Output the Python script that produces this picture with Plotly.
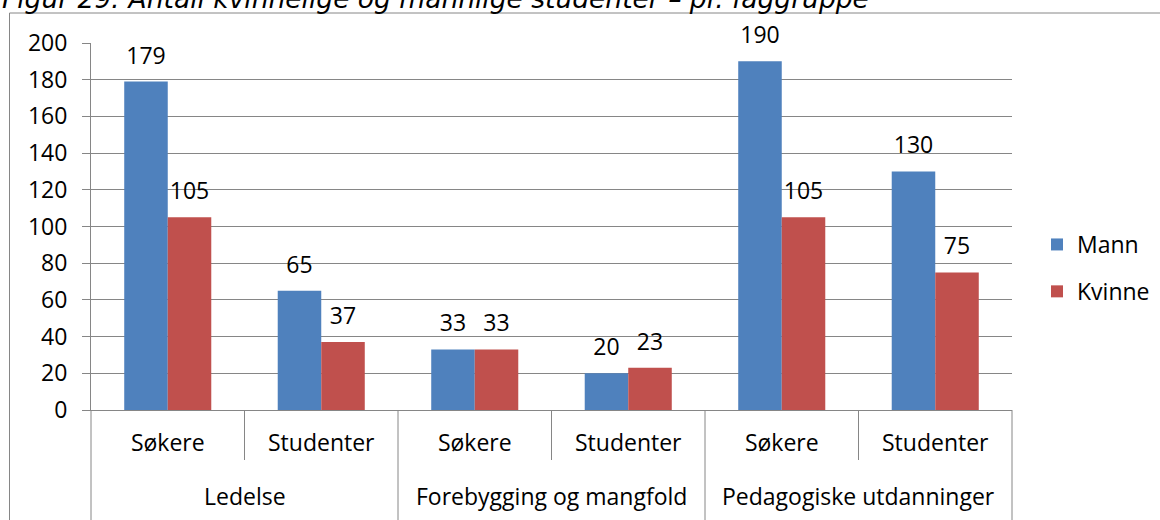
import plotly.graph_objects as go

# Data
group_names = ["Ledelse", "Forebygging og mangfold", "Pedagogiske utdanninger"]
groups = ["Ledelse", "Ledelse",
          "Forebygging og mangfold", "Forebygging og mangfold",
          "Pedagogiske utdanninger", "Pedagogiske utdanninger"]
subcats = ["Søkere", "Studenter", "Søkere", "Studenter", "Søkere", "Studenter"]
mann = [179, 65, 33, 20, 190, 130]
kvinne = [105, 37, 33, 23, 105, 75]
series_names = ["Mann", "Kvinne"]
y_ticks = [0, 20, 40, 60, 80, 100, 120, 140, 160, 180, 200]
title_text = "Figur 29: Antall kvinnelige og mannlige studenter – pr. faggruppe"

# Styling
W, H = 1160, 520
L, R, T, B = 91, 148, 43, 110
PW, PH = W - L - R, H - T - B
BLUE, RED = "#4F81BD", "#C0504D"
GRID = "#868686"
FONT = "Open Sans"
FS = 23
GAP = 0.433


def px_x(p):
    return (p - L) / PW


def px_y(p):
    return (T + PH - p) / PH


# one category per (group, sub-category) pair, labelled with the sub-category
cat_keys = [f"{g} | {s}" for g, s in zip(groups, subcats)]
n_cat = len(cat_keys)

fig = go.Figure()
for name, vals, col in [(series_names[0], mann, BLUE), (series_names[1], kvinne, RED)]:
    fig.add_trace(go.Bar(
        x=cat_keys, y=vals, name=name, marker=dict(color=col, line=dict(width=0)),
        offsetgroup=name, legendgroup=name, hoverinfo="skip",
    ))
# value labels above each bar
for name, vals in [(series_names[0], mann), (series_names[1], kvinne)]:
    fig.add_trace(go.Scatter(
        x=cat_keys, y=vals, mode="markers+text", text=[str(v) for v in vals],
        textposition="top center", textfont=dict(family=FONT, size=FS, color="black"),
        marker=dict(size=18, opacity=0), offsetgroup=name, showlegend=False,
        hoverinfo="skip", cliponaxis=False,
    ))

shapes = []
annotations = []
# separators between sub-categories below the axis
for i in range(n_cat - 1):
    if groups[i] == groups[i + 1]:
        shapes.append(dict(type="line", xref="x", yref="paper", x0=i + 0.5, x1=i + 0.5,
                           y0=0, y1=px_y(460), line=dict(color=GRID, width=1)))
# group dividers and group labels
bounds = [0] + [i + 1 for i in range(n_cat - 1) if groups[i] != groups[i + 1]] + [n_cat]
for k, g in enumerate(group_names):
    a, b = bounds[k], bounds[k + 1]
    annotations.append(dict(text=g, xref="x", yref="paper", x=(a + b - 1) / 2,
                            y=px_y(496), xanchor="center", yanchor="middle", showarrow=False,
                            font=dict(family=FONT, size=FS, color="black")))
for bnd in bounds:
    xp = bnd / n_cat
    shapes.append(dict(type="line", xref="paper", yref="paper", x0=xp, x1=xp,
                       y0=0, y1=px_y(560), line=dict(color=GRID, width=1)))
# outer chart frame
shapes.append(dict(type="rect", xref="paper", yref="paper",
                   x0=px_x(9.5), x1=px_x(1300), y0=px_y(13), y1=px_y(700),
                   line=dict(color=GRID, width=1), layer="below"))
annotations.append(dict(text=title_text, xref="paper", yref="paper",
                        x=px_x(0), y=px_y(-1.8), xanchor="left", yanchor="middle",
                        showarrow=False,
                        font=dict(family="DejaVu Sans", size=26.5, style="italic", color="black")))

fig.update_layout(
    width=W, height=H,
    margin=dict(l=L, r=R, t=T, b=B, autoexpand=False),
    paper_bgcolor="white", plot_bgcolor="white",
    barmode="group", bargap=GAP, bargroupgap=0,
    scattermode="group", scattergap=GAP,
    font=dict(family=FONT, size=FS, color="black"),
    showlegend=True,
    legend=dict(xref="container", yref="container", x=1037 / W, y=1 - 268 / H,
                xanchor="left", yanchor="middle",
                font=dict(family=FONT, size=FS, color="black"),
                tracegroupgap=14, bgcolor="rgba(0,0,0,0)"),
    shapes=shapes,
    annotations=annotations,
)
fig.update_yaxes(range=[0, 200], tickvals=y_ticks, showgrid=True, gridcolor=GRID, gridwidth=1,
                 showline=True, linecolor=GRID, linewidth=1, ticks="outside", ticklen=8,
                 tickcolor=GRID, zeroline=False, tickfont=dict(family=FONT, size=FS),
                 ticklabelstandoff=10)
fig.update_xaxes(type="category", range=[-0.5, n_cat - 0.5], tickvals=cat_keys, ticktext=subcats,
                 showline=True, linecolor=GRID, linewidth=1, ticks="",
                 tickfont=dict(family=FONT, size=FS), ticklabelstandoff=12)

fig.write_html("out.html")
